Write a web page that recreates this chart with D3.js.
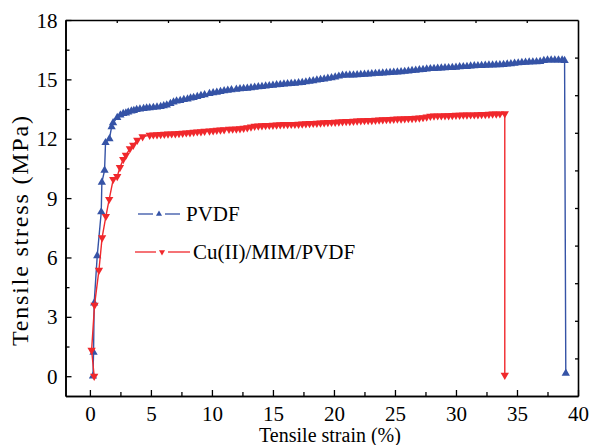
<!DOCTYPE html>
<html><head><meta charset="utf-8">
<script src="https://cdn.jsdelivr.net/npm/d3@7"></script>
<style>body{margin:0;background:#fff}svg{display:block}text{font-family:"Liberation Serif","Times New Roman",serif;fill:#000}</style>
</head><body>
<svg id="c" width="590" height="445"></svg>
<script>
// ---- data ----
const seriesNames = ["PVDF", "Cu(II)/MIM/PVDF"];
const pvdfStrain = [0.25,0.3,0.35,0.6,0.93,0.98,1.2,1.28,1.6,1.78,1.9,2.24,2.5,2.73,2.95,3.14,3.4,3.6,3.83,4.1,4.4,4.65,4.9,5.2,5.5,5.8,6.05,6.3,6.6,6.85,7.1,7.4,7.7,8.0,8.25,8.5,8.8,9.1,9.4,9.8,10.1,10.4,10.7,11.0,11.3,11.6,12.0,12.3,12.6,12.9,13.2,13.5,13.8,14.1,14.4,14.7,15.0,15.3,15.6,15.9,16.2,16.5,16.8,17.1,17.4,17.7,18.0,18.3,18.6,18.9,19.2,19.5,19.8,20.1,20.4,20.7,21.0,21.3,21.6,21.9,22.2,22.5,22.8,23.1,23.4,23.7,24.0,24.3,24.6,24.9,25.2,25.5,25.8,26.1,26.4,26.7,27.0,27.3,27.6,27.9,28.2,28.5,28.8,29.1,29.4,29.7,30.0,30.3,30.6,30.9,31.2,31.5,31.8,32.1,32.4,32.7,33.0,33.3,33.6,33.9,34.2,34.5,34.8,35.1,35.4,35.7,36.0,36.3,36.6,36.9,37.2,37.5,37.8,38.1,38.4,38.7,38.9,39.0];
const pvdfStress = [0,1.2,3.7,6.08,8.3,9.8,10.4,11.8,12.0,12.6,12.8,13.07,13.2,13.27,13.3,13.35,13.4,13.42,13.47,13.5,13.52,13.55,13.56,13.58,13.6,13.63,13.66,13.7,13.78,13.85,13.9,13.93,13.98,14.0,14.05,14.08,14.13,14.18,14.22,14.28,14.32,14.35,14.38,14.42,14.45,14.47,14.5,14.52,14.53,14.55,14.57,14.6,14.62,14.64,14.66,14.68,14.7,14.72,14.74,14.76,14.78,14.79,14.8,14.82,14.84,14.87,14.9,14.93,14.96,14.99,15.02,15.05,15.08,15.12,15.16,15.2,15.21,15.22,15.22,15.23,15.24,15.25,15.27,15.28,15.3,15.31,15.32,15.33,15.34,15.36,15.37,15.38,15.4,15.42,15.44,15.46,15.48,15.5,15.52,15.54,15.55,15.56,15.57,15.58,15.59,15.6,15.61,15.63,15.64,15.65,15.67,15.68,15.69,15.7,15.71,15.72,15.72,15.73,15.74,15.75,15.77,15.79,15.81,15.83,15.85,15.86,15.87,15.88,15.89,15.9,15.95,15.98,15.98,15.98,15.97,15.97,15.95,0.15];
const cuStrain = [0.35,0.14,0.38,0.74,1.0,1.31,1.58,1.91,2.24,2.46,2.73,2.95,3.28,3.55,3.88,4.32,4.9,5.2,5.5,5.8,6.1,6.4,6.7,7.0,7.3,7.6,7.9,8.2,8.5,8.8,9.1,9.4,9.8,10.1,10.4,10.7,11.0,11.4,11.7,12.0,12.3,12.6,12.9,13.2,13.5,13.8,14.1,14.4,14.7,15.0,15.3,15.6,15.9,16.2,16.5,16.8,17.1,17.4,17.7,18.0,18.3,18.6,18.9,19.2,19.5,19.8,20.1,20.4,20.7,21.0,21.3,21.6,21.9,22.2,22.5,22.8,23.1,23.4,23.7,24.0,24.3,24.6,24.9,25.2,25.5,25.8,26.1,26.4,26.7,27.0,27.3,27.6,27.9,28.2,28.5,28.8,29.1,29.4,29.7,30.0,30.3,30.6,30.9,31.2,31.5,31.8,32.1,32.4,32.7,33.0,33.3,33.6,34.0,34.0];
const cuStress = [0,1.32,3.59,5.36,7.0,8.08,8.94,9.95,10.1,10.55,10.95,11.17,11.5,11.67,11.93,12.1,12.18,12.2,12.21,12.22,12.23,12.24,12.25,12.26,12.27,12.28,12.3,12.31,12.33,12.35,12.36,12.38,12.4,12.41,12.43,12.45,12.46,12.48,12.49,12.5,12.51,12.53,12.56,12.6,12.63,12.65,12.66,12.67,12.68,12.69,12.7,12.71,12.72,12.72,12.73,12.73,12.74,12.75,12.76,12.77,12.78,12.79,12.8,12.81,12.82,12.83,12.84,12.85,12.86,12.87,12.88,12.89,12.9,12.91,12.92,12.93,12.93,12.94,12.95,12.96,12.97,12.98,12.99,13.0,13.0,13.01,13.02,13.03,13.04,13.05,13.07,13.1,13.14,13.15,13.16,13.16,13.17,13.17,13.18,13.19,13.19,13.2,13.2,13.21,13.21,13.22,13.23,13.23,13.24,13.25,13.25,13.26,13.27,0.05];
const xTicks = [0,5,10,15,20,25,30,35,40];
const yTicks = [0,3,6,9,12,15,18];
const xLabel = "Tensile strain (%)";
const yLabel = "Tensile stress (MPa)";

// ---- layout ----
const svg = d3.select("#c");
const L = 65.5, R = 578, T = 20, B = 396;
const x = d3.scaleLinear().domain([-2, 40]).range([L, R]);
const y = d3.scaleLinear().domain([-1, 18]).range([B, T]);
const colors = ["#3553a6", "#f0282c"];
const serif = "'Liberation Serif','Times New Roman',serif";

svg.append("clipPath").attr("id","clip").append("rect").attr("x",L).attr("y",T-6).attr("width",R-L).attr("height",B-T+6);

const series = [
  {name: seriesNames[0], pts: pvdfStrain.map((s,i)=>[s,pvdfStress[i]]), color: colors[0], rot: 0},
  {name: seriesNames[1], pts: cuStrain.map((s,i)=>[s,cuStress[i]]), color: colors[1], rot: 180}
];
const line = d3.line().x(d=>x(d[0])).y(d=>y(d[1]));
const sym = d3.symbol().type(d3.symbolTriangle).size(30);
const symL = d3.symbol().type(d3.symbolTriangle).size(16);

const g = svg.append("g").attr("clip-path","url(#clip)");
series.forEach(s=>{
  g.append("path").datum(s.pts).attr("d",line).attr("fill","none").attr("stroke",s.color).attr("stroke-width",1.4);
  g.selectAll(null).data(s.pts).enter().append("path")
    .attr("d",sym).attr("fill",s.color)
    .attr("transform",d=>`translate(${x(d[0])},${y(d[1])}) rotate(${s.rot})`);
});

// axes
const fs = "21px";
const xMinor = d3.range(-2.5, 40.01, 2.5).filter(v=>v>=-2 && xTicks.indexOf(v)<0);
const yMinor = d3.range(1.5, 18, 3);
const axB = svg.append("g").attr("transform",`translate(0,${B})`)
  .call(d3.axisBottom(x).tickValues(xTicks).tickSize(-6).tickSizeOuter(0).tickPadding(10).tickFormat(d3.format("d")));
const axBm = svg.append("g").attr("transform",`translate(0,${B})`)
  .call(d3.axisBottom(x).tickValues(xMinor).tickSize(-4).tickSizeOuter(0).tickFormat(""));
const axL = svg.append("g").attr("transform",`translate(${L},0)`)
  .call(d3.axisLeft(y).tickValues(yTicks).tickSize(-6).tickSizeOuter(0).tickPadding(8).tickFormat(d3.format("d")));
const axLm = svg.append("g").attr("transform",`translate(${L},0)`)
  .call(d3.axisLeft(y).tickValues(yMinor).tickSize(-4).tickSizeOuter(0).tickFormat(""));
const div = d3.range(1,10);
const xt = d3.scaleLinear().domain([0,10]).range([L,R]);
const yr = d3.scaleLinear().domain([0,10]).range([B,T]);
const axT = svg.append("g").attr("transform",`translate(0,${T})`)
  .call(d3.axisTop(xt).tickValues(div).tickSize(-3).tickSizeOuter(0).tickFormat(""));
const axR = svg.append("g").attr("transform",`translate(${R},0)`)
  .call(d3.axisRight(yr).tickValues(div).tickSize(-3).tickSizeOuter(0).tickFormat(""));
[axB,axBm,axL,axLm,axT,axR].forEach(a=>{
  a.attr("font-family", serif);
  a.select(".domain").attr("stroke","#000").attr("stroke-width",1.6);
  a.selectAll(".tick line").attr("stroke","#000").attr("stroke-width",1.3);
  a.selectAll("text").attr("font-family",serif).style("font-size",fs).attr("fill","#000");
});
axL.selectAll(".tick text").attr("dy","0.34em");

// titles
svg.append("text").attr("x",330).attr("y",442).attr("text-anchor","middle")
  .attr("font-family",serif).style("font-size","20px").text(xLabel);
svg.append("text").attr("transform","translate(28,231) rotate(-90)").attr("text-anchor","middle")
  .attr("font-family",serif).style("font-size","24px")
  .attr("textLength",230).attr("lengthAdjust","spacing").text(yLabel);

// legend
const leg = [{y:214, x0:138, x1:180, mx:159, tx:186}, {y:252, x0:135, x1:190, mx:162, tx:193}];
series.forEach((s,i)=>{
  const l = leg[i];
  const lg = svg.append("g");
  lg.append("line").attr("x1",l.x0).attr("x2",l.mx-6).attr("y1",l.y).attr("y2",l.y).attr("stroke",s.color).attr("stroke-width",1.3);
  lg.append("line").attr("x1",l.mx+6).attr("x2",l.x1).attr("y1",l.y).attr("y2",l.y).attr("stroke",s.color).attr("stroke-width",1.3);
  lg.append("path").attr("d",symL()).attr("fill",s.color).attr("transform",`translate(${l.mx},${l.y}) rotate(${s.rot})`);
  lg.append("text").attr("x",l.tx).attr("y",l.y+7).attr("font-family",serif).style("font-size","21px").text(s.name);
});
</script>
</body></html>
